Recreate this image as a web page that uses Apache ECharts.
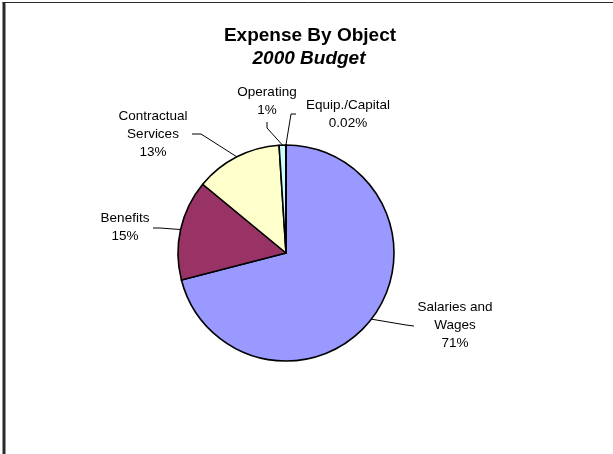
<!DOCTYPE html>
<html>
<head>
<meta charset="utf-8">
<style>
  html, body { margin: 0; padding: 0; background: #fff; }
  #chart { width: 613px; height: 454px; }
</style>
<script src="https://cdn.jsdelivr.net/npm/echarts@6/dist/echarts.min.js"></script>
</head>
<body>
<div id="chart"></div>
<script>
// Expense by object, 2000 budget (percent of total)
const categories = ['Salaries and\nWages', 'Benefits', 'Contractual\nServices', 'Operating', 'Equip./Capital'];
const percents = [71, 15, 13, 1, 0.02];
const sliceColors = ['#9999FF', '#993366', '#FFFFCC', '#CCFFFF', '#660066'];

const FONT = 'Arial, "Liberation Sans", sans-serif';
const CENTER = [286, 253];
const RADIUS = 108;

// Where each label block sits, and where its leader line ends / bends
const labelSpots = [
  { x: 455, y: 325, end: [414, 326], bend: [406, 325] },
  { x: 125, y: 227, end: [153, 228], bend: [160, 228] },
  { x: 153, y: 134.5, end: [192, 134], bend: [201, 134] },
  { x: 267, y: 101.5, end: [267, 122], bend: [267, 128] },
  { x: 348, y: 114, end: [296, 114], bend: [291, 114] }
];

const total = percents.reduce((a, b) => a + b, 0);

// point on the rim at the middle of slice i (clockwise from 12 o'clock)
function rimPoint(i) {
  let before = 0;
  for (let k = 0; k < i; k++) before += percents[k];
  const frac = (before + percents[i] / 2) / total;
  const ang = frac * 2 * Math.PI;
  return [CENTER[0] + RADIUS * Math.sin(ang), CENTER[1] - RADIUS * Math.cos(ang)];
}

const chart = echarts.init(document.getElementById('chart'), null, { renderer: 'canvas' });

chart.setOption({
  animation: false,
  backgroundColor: '#ffffff',
  graphic: [
    { type: 'rect', shape: { x: 2.5, y: 2, width: 3, height: 452 }, style: { fill: '#2a2a2a' }, silent: true },
    { type: 'line', shape: { x1: 2.5, y1: 2.5, x2: 613, y2: 2.5 }, style: { stroke: '#2a2a2a', lineWidth: 1 }, silent: true },
    { type: 'text', x: 310, y: 36,
      style: { text: 'Expense By Object', font: 'bold 19px ' + FONT, fill: '#000', textAlign: 'center', textVerticalAlign: 'middle' } },
    { type: 'text', x: 309, y: 58.5,
      style: { text: '2000 Budget', font: 'italic bold 19px ' + FONT, fill: '#000', textAlign: 'center', textVerticalAlign: 'middle' } }
  ],
  series: [{
    type: 'pie',
    center: CENTER,
    radius: RADIUS,
    startAngle: 90,
    clockwise: true,
    avoidLabelOverlap: false,
    minAngle: 0,
    itemStyle: { borderColor: '#000', borderWidth: 1.6 },
    emphasis: { disabled: true },
    label: {
      show: true,
      position: 'outside',
      fontFamily: FONT,
      fontSize: 13.5,
      lineHeight: 18,
      color: '#000',
      align: 'center',
      formatter: p => p.name + '\n' + p.value + '%'
    },
    labelLine: { show: true, length: 10, length2: 10, lineStyle: { color: '#000', width: 1 } },
    labelLayout: function (params) {
      const s = labelSpots[params.dataIndex];
      return {
        x: s.x,
        y: s.y,
        align: 'center',
        verticalAlign: 'middle',
        labelLinePoints: [rimPoint(params.dataIndex), s.bend, s.end]
      };
    },
    data: categories.map((name, i) => ({
      name: name,
      value: percents[i],
      itemStyle: { color: sliceColors[i] }
    }))
  }]
});
</script>
</body>
</html>
